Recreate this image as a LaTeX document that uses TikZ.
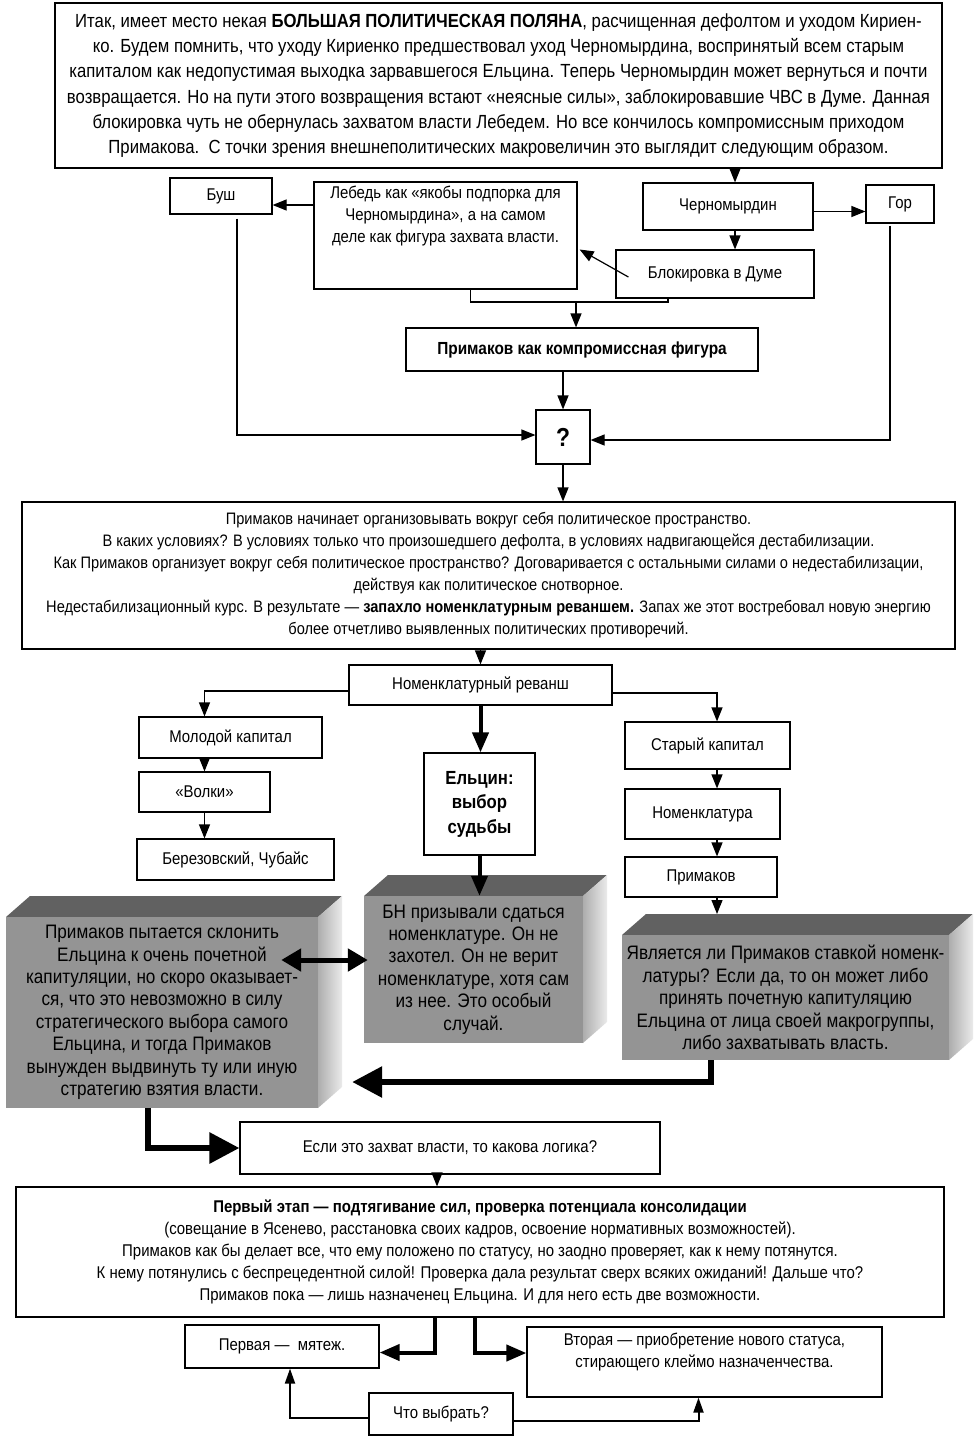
\documentclass[tikz,border=0pt]{standalone}
\usepackage{fontspec}
\setmainfont{Liberation Sans}[FakeStretch=0.88]
\usetikzlibrary{arrows.meta}

\newcommand{\fsTop}{\fontsize{19}{25.2}\selectfont}
\newcommand{\fsText}{\fontsize{16.6}{22}\selectfont}
\newcommand{\fsStage}{\fontsize{17}{22}\selectfont}
\newcommand{\fsBox}{\fontsize{17}{22}\selectfont}
\newcommand{\fsCube}{\fontsize{19.5}{22.4}\selectfont}
\newcommand{\fsFate}{\fontsize{19}{24.5}\selectfont\bfseries}

\colorlet{cubetop}{black!62}
\colorlet{cubefront}{black!42}

% a grey block: name, x1, y1, x2, y2, text
\newcommand{\cubebox}[6]{%
  \fill[cubetop] (#2,#3) -- ++(24,-21) -- ({#4+24},{#3-21}) -- (#4,#3) -- cycle;
  \shade[left color=black!32,right color=black!8] (#4,#3) -- ++(24,-21) -- ({#4+24},{#5-21}) -- (#4,#5) -- cycle;
  \node[cubeface,minimum width={#4-#2},minimum height={#5-#3}] (#1) at ({(#2+#4)/2},{(#3+#5)/2}) {#6};
}

\begin{document}
\begin{tikzpicture}[x=1pt,y=-1pt,
    box/.style={draw,line width=1.2pt,align=center,inner sep=2pt,font=\fsBox},
    cubeface/.style={fill=cubefront,align=center,inner sep=0pt,font=\fsCube},
    arr/.style={line width=1.2pt,-{Triangle[length=14pt,width=11pt]}},
    mid/.style={line width=4pt,-{Triangle[length=20pt,width=16pt]}},
    fat/.style={line width=6pt,-{Triangle[length=30pt,width=30pt]}},
    dbl/.style={line width=5pt,{Triangle[length=20pt,width=22pt]}-{Triangle[length=20pt,width=22pt]}},
    pick/.style={line width=2pt,-{Triangle[length=15pt,width=10pt]}}]

  \useasboundingbox (0,0) rectangle (978,1437);

  % upper part
  \node[box,font=\fsTop,minimum width=887,minimum height=165] (top) at (498.5,85.5)
    {Итак, имеет место некая \textbf{БОЛЬШАЯ ПОЛИТИЧЕСКАЯ ПОЛЯНА}, расчищенная дефолтом и уходом Кириен-\\
     ко. Будем помнить, что уходу Кириенко предшествовал уход Черномырдина, воспринятый всем старым\\
     капиталом как недопустимая выходка зарвавшегося Ельцина. Теперь Черномырдин может вернуться и почти\\
     возвращается. Но на пути этого возвращения встают «неясные силы», заблокировавшие ЧВС в Думе. Данная\\
     блокировка чуть не обернулась захватом власти Лебедем. Но все кончилось компромиссным приходом\\
     Примакова.\ \ С точки зрения внешнеполитических макровеличин это выглядит следующим образом.};

  \node[box,minimum width=102,minimum height=36] (bush) at (221,196) {Буш};
  \node[box,minimum width=263,minimum height=107] (lebed) at (445.5,235.5)
    {\parbox[t][98pt][t]{255pt}{\centering Лебедь как «якобы подпорка для\\Черномырдина», а на самом\\деле как фигура захвата власти.}};
  \node[box,minimum width=170,minimum height=47] (chern) at (728,206.5) {Черномырдин};
  \node[box,minimum width=68,minimum height=38] (gor) at (900,204) {Гор};
  \node[box,minimum width=198,minimum height=48] (block) at (715,274) {Блокировка в Думе};
  \node[box,font=\fontsize{17.5}{22}\selectfont\bfseries,minimum width=352,minimum height=43] (primk) at (582,349.5) {Примаков как компромиссная фигура};
  \node[box,font=\fontsize{26}{28}\selectfont\bfseries,minimum width=54,minimum height=54] (quest) at (563,437) {?};

  \coordinate (jn) at (576,302);
  \draw[arr] ([xshift=7]chern.north |- top.south) -- ([xshift=7]chern.north);
  \draw[arr] ([yshift=-9]bush.east -| lebed.west) -- ([yshift=-9]bush.east);
  \draw[arr] ([yshift=-5]chern.east) -- ([yshift=-5]chern.east -| gor.west);
  \draw[arr] ([xshift=7]chern.south) -- ([xshift=7]chern.south |- block.north);
  \draw[arr] ([xshift=13,yshift=-3]block.west) -- ([xshift=2,yshift=-14]lebed.east);
  \draw[line width=1.2pt] ([xshift=25]lebed.south) |- (jn) -| ([xshift=-47]block.south);
  \draw[arr] (jn) -- (jn |- primk.north);
  \draw[arr] (primk.south -| quest) -- (quest.north);
  \draw[arr] ([xshift=16,yshift=-4]bush.south) |- ([yshift=2]quest.west);
  \draw[arr] ([xshift=-10,yshift=-2]gor.south) |- ([yshift=-3]quest.east);

  % middle part
  \node[box,font=\fsText,minimum width=933,minimum height=147] (space) at (488.5,575.5)
    {Примаков начинает организовывать вокруг себя политическое пространство.\\
     В каких условиях? В условиях только что произошедшего дефолта, в условиях надвигающейся дестабилизации.\\
     Как Примаков организует вокруг себя политическое пространство? Договаривается с остальными силами о недестабилизации,\\
     действуя как политическое снотворное.\\
     Недестабилизационный курс. В результате — \textbf{запахло номенклатурным реваншем.} Запах же этот востребовал новую энергию\\
     более отчетливо выявленных политических противоречий.};

  \node[box,minimum width=263,minimum height=40] (revansh) at (480.5,685) {Номенклатурный реванш};
  \node[box,minimum width=183,minimum height=41] (young) at (230.5,737.5) {Молодой капитал};
  \node[box,minimum width=131,minimum height=40] (wolves) at (204.5,792) {«Волки»};
  \node[box,minimum width=197,minimum height=41] (berez) at (235.5,859.5) {Березовский, Чубайс};
  \node[box,font=\fsFate,minimum width=111,minimum height=102] (fate) at (479.5,804) {Ельцин:\\выбор\\судьбы};
  \node[box,minimum width=165,minimum height=47] (oldcap) at (707.5,745.5) {Старый капитал};
  \node[box,minimum width=155,minimum height=50] (nomen) at (702.5,814) {Номенклатура};
  \node[box,minimum width=152,minimum height=40] (prim) at (701,877) {Примаков};

  \coordinate (cR) at (717,0);
  \coordinate (rtop) at (717,914);
  \draw[arr] (quest.south) -- (quest.south |- space.north);
  \draw[arr] (space.south -| revansh) -- (revansh.north);
  \draw[arr] ([yshift=-6]revansh.west) -| (young.north -| wolves);
  \draw[arr] (young.south -| wolves) -- (wolves.north);
  \draw[arr] (wolves.south) -- (wolves.south |- berez.north);
  \draw[mid] (revansh.south) -- (revansh.south |- fate.north);
  \draw[arr] ([yshift=-8]revansh.east) -| (oldcap.north -| cR);
  \draw[arr] (oldcap.south -| cR) -- (nomen.north -| cR);
  \draw[arr] (nomen.south -| cR) -- (prim.north -| cR);
  \draw[arr] (prim.south -| cR) -- (rtop);

  % grey blocks
  \cubebox{cubeL}{6}{917}{318}{1108}{Примаков пытается склонить\\Ельцина к очень почетной\\капитуляции, но скоро оказывает-\\ся, что это невозможно в силу\\стратегического выбора самого\\Ельцина, и тогда Примаков\\вынужден выдвинуть ту или иную\\стратегию взятия власти.}
  \cubebox{cubeM}{364}{896}{583}{1043}{БН призывали сдаться\\номенклатуре. Он не\\захотел. Он не верит\\номенклатуре, хотя сам\\из нее. Это особый\\случай.}
  \cubebox{cubeR}{622}{935}{949}{1060}{Является ли Примаков ставкой номенк-\\латуры? Если да, то он может либо\\принять почетную капитуляцию\\Ельцина от лица своей макрогруппы,\\либо захватывать власть.}

  \coordinate (dd) at (0,960);
  \coordinate (cR2) at (711,1082);
  \draw[mid] (fate.south) -- (fate.south |- cubeM.north);
  \draw[dbl] ([xshift=-37]cubeL.east |- dd) -- ([xshift=4]cubeM.west |- dd);
  \draw[fat] (cubeR.south -| cR2) |- ([xshift=34]cubeL.east |- cR2);

  % lower part
  \node[box,minimum width=420,minimum height=52] (logic) at (450,1148) {Если это захват власти, то какова логика?};
  \node[box,font=\fsStage,minimum width=928,minimum height=130] (stage) at (480,1252)
    {\textbf{Первый этап — подтягивание сил, проверка потенциала консолидации}\\
     (совещание в Ясенево, расстановка своих кадров, освоение нормативных возможностей).\\
     Примаков как бы делает все, что ему положено по статусу, но заодно проверяет, как к нему потянутся.\\
     К нему потянулись с беспрецедентной силой! Проверка дала результат сверх всяких ожиданий! Дальше что?\\
     Примаков пока — лишь назначенец Ельцина. И для него есть две возможности.};
  \node[box,minimum width=194,minimum height=43] (first) at (282,1346.5) {Первая —\ \ мятеж.};
  \node[box,minimum width=355,minimum height=70] (second) at (704.5,1362)
    {\parbox[t][58pt][t]{345pt}{\centering Вторая — приобретение нового статуса,\\стирающего клеймо назначенчества.}};
  \node[box,minimum width=144,minimum height=42] (choose) at (441,1414) {Что выбрать?};

  \draw[fat] ([xshift=-14]cubeL.south) |- (logic.west);
  \draw[arr] ([xshift=-13]logic.south) -- ([xshift=-13]logic.south |- stage.north);
  \draw[mid] ([xshift=-45]stage.south) |- ([yshift=-6]first.east);
  \draw[mid] ([xshift=-5]stage.south) |- ([yshift=9]second.west);
  \draw[pick] ([yshift=-4]choose.west) -| ([xshift=8]first.south);
  \draw[pick] ([yshift=-7]choose.east) -| ([xshift=-6]second.south);

\end{tikzpicture}
\end{document}
